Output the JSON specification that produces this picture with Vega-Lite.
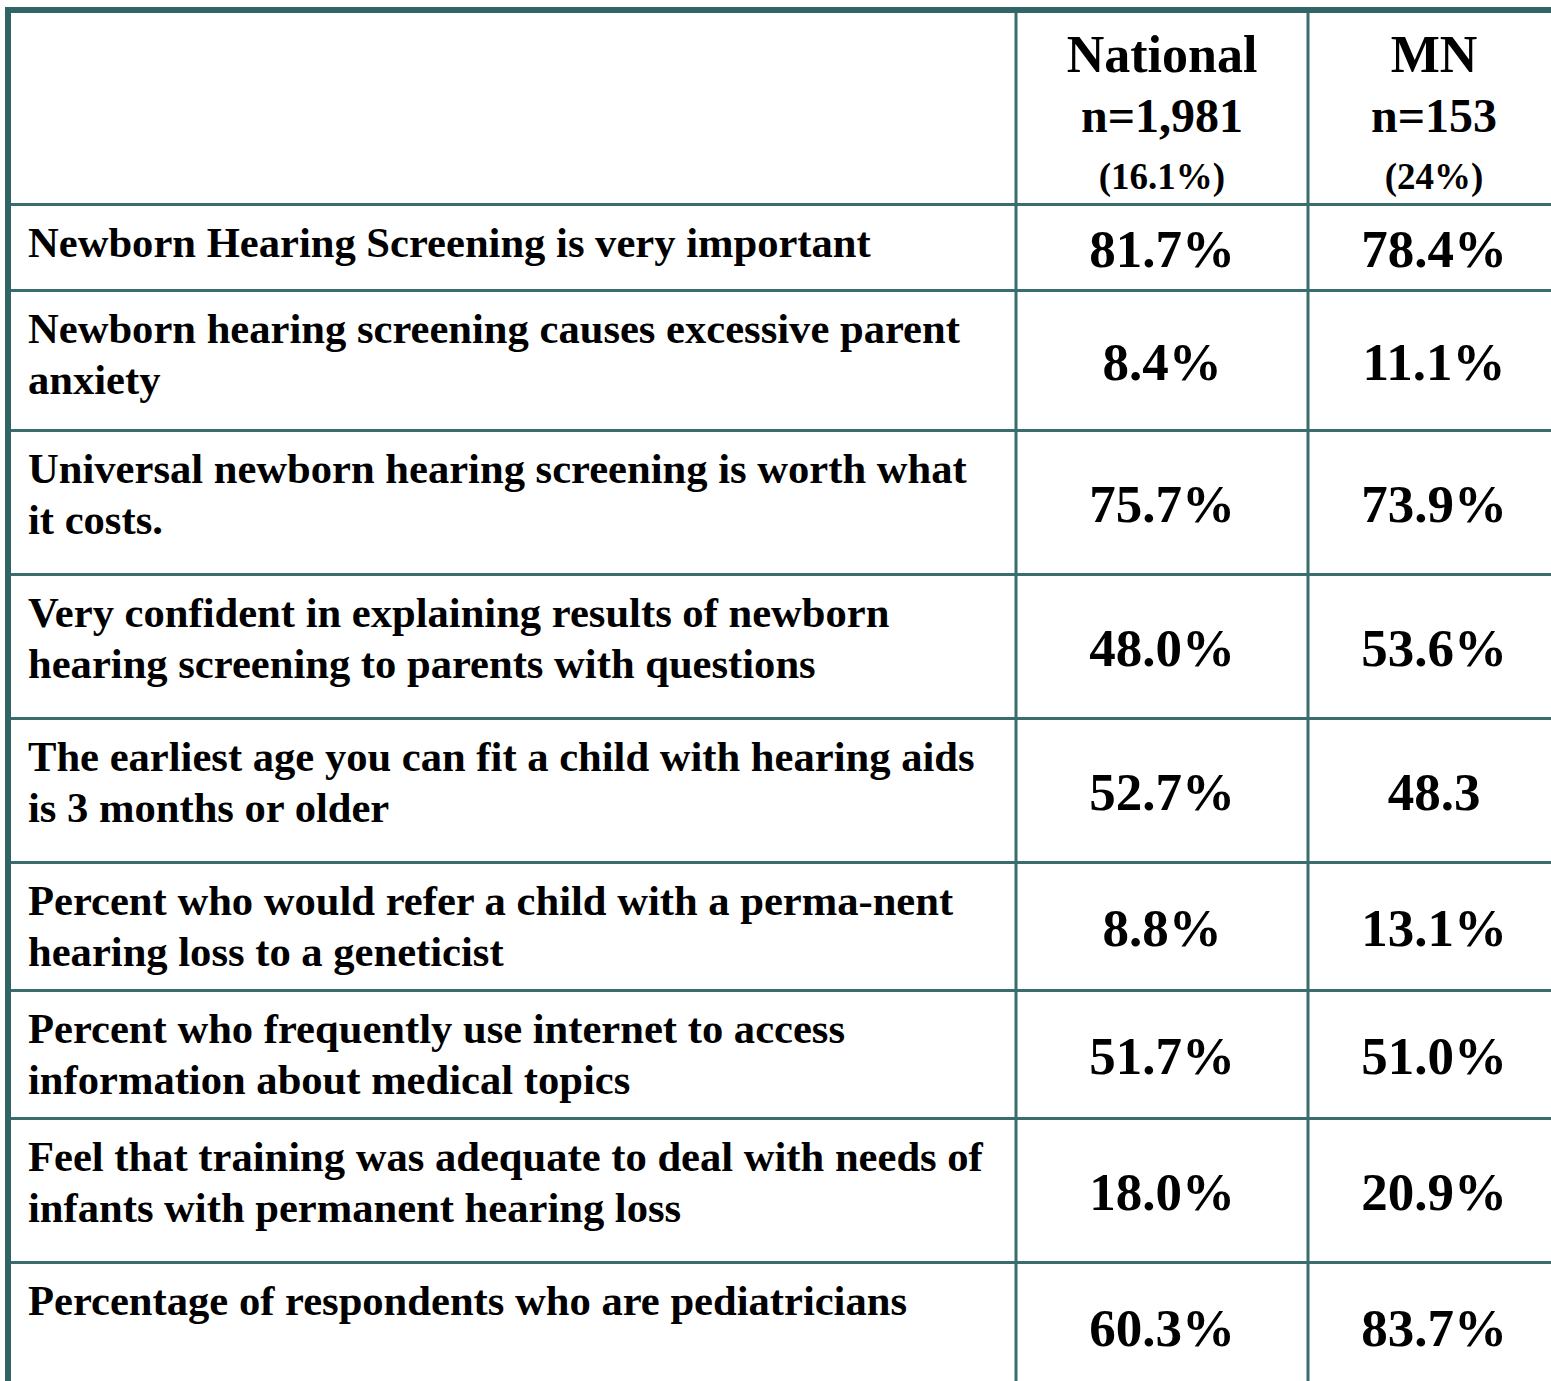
{
  "$schema": "https://vega.github.io/schema/vega-lite/v6.json",
  "width": 1551,
  "height": 1381,
  "autosize": {"type": "fit", "contains": "padding"},
  "padding": 0,
  "background": "white",
  "config": {"view": {"stroke": null}, "text": {"font": "Liberation Serif", "fontWeight": "bold", "color": "black"}},
  "datasets": {
    "rows": [
      {"label": "Newborn Hearing Screening is very important", "National": "81.7%", "MN": "78.4%", "top": 204.5, "bottom": 290.5},
      {"label": "Newborn hearing screening causes excessive parent\nanxiety", "National": "8.4%", "MN": "11.1%", "top": 290.5, "bottom": 430.5},
      {"label": "Universal newborn hearing screening is worth what\nit costs.", "National": "75.7%", "MN": "73.9%", "top": 430.5, "bottom": 574.5},
      {"label": "Very confident in explaining results of newborn\nhearing screening to parents with questions", "National": "48.0%", "MN": "53.6%", "top": 574.5, "bottom": 718.5},
      {"label": "The earliest age you can fit a child with hearing aids\nis 3 months or older", "National": "52.7%", "MN": "48.3", "top": 718.5, "bottom": 862.5},
      {"label": "Percent who would refer a child with a perma-nent\nhearing loss to a geneticist", "National": "8.8%", "MN": "13.1%", "top": 862.5, "bottom": 990.5},
      {"label": "Percent who frequently use internet to access\ninformation about medical topics", "National": "51.7%", "MN": "51.0%", "top": 990.5, "bottom": 1118.5},
      {"label": "Feel that training was adequate to deal with needs of\ninfants with permanent hearing loss", "National": "18.0%", "MN": "20.9%", "top": 1118.5, "bottom": 1262.5},
      {"label": "Percentage of respondents who are pediatricians", "National": "60.3%", "MN": "83.7%", "top": 1262.5, "bottom": 1391}
    ],
    "cols": [
      {"name": "label", "left": 8, "right": 1016, "title": "", "n": "", "pct": ""},
      {"name": "National", "left": 1016, "right": 1308, "title": "National", "n": "n=1,981", "pct": "(16.1%)"},
      {"name": "MN", "left": 1308, "right": 1560, "title": "MN", "n": "n=153", "pct": "(24%)"}
    ]
  },
  "layer": [
    {
      "data": {"name": "rows"},
      "mark": {"type": "rule", "color": "#3a6d6d", "strokeWidth": 3, "clip": true},
      "encoding": {
        "y": {"field": "top", "type": "quantitative", "scale": {"domain": [0, 1381], "reverse": true, "zero": false, "nice": false}, "axis": null},
        "x": {"datum": 5, "type": "quantitative", "scale": {"domain": [0, 1551], "zero": false, "nice": false}, "axis": null},
        "x2": {"datum": 1551}
      }
    },
    {
      "data": {"name": "cols"},
      "transform": [{"filter": "datum.name != 'label'"}],
      "mark": {"type": "rule", "color": "#3a6d6d", "strokeWidth": 3, "clip": true},
      "encoding": {
        "x": {"field": "left", "type": "quantitative"},
        "y": {"datum": 10, "type": "quantitative"},
        "y2": {"datum": 1381}
      }
    },
    {
      "data": {"values": [{"edge": "top"}]},
      "mark": {"type": "rule", "color": "#316464", "strokeWidth": 6, "clip": true},
      "encoding": {
        "y": {"datum": 10, "type": "quantitative"},
        "x": {"datum": 5, "type": "quantitative"},
        "x2": {"datum": 1551}
      }
    },
    {
      "data": {"values": [{"edge": "left"}]},
      "mark": {"type": "rule", "color": "#316464", "strokeWidth": 6, "clip": true},
      "encoding": {
        "x": {"datum": 8, "type": "quantitative"},
        "y": {"datum": 7, "type": "quantitative"},
        "y2": {"datum": 1381}
      }
    },
    {
      "data": {"name": "rows"},
      "mark": {"type": "text", "align": "left", "baseline": "alphabetic", "dy": 52, "fontSize": 42.6, "lineBreak": "\n", "lineHeight": 51},
      "encoding": {
        "x": {"datum": 28, "type": "quantitative"},
        "y": {"field": "top", "type": "quantitative"},
        "text": {"field": "label"}
      }
    },
    {
      "data": {"name": "rows"},
      "transform": [
        {"fold": ["National", "MN"], "as": ["col", "value"]},
        {"lookup": "col", "from": {"data": {"name": "cols"}, "key": "name", "fields": ["left", "right"]}},
        {"calculate": "(datum.left + datum.right) / 2", "as": "cx"},
        {"calculate": "(datum.top + datum.bottom) / 2", "as": "cy"}
      ],
      "mark": {"type": "text", "align": "center", "baseline": "middle", "dy": 3, "fontSize": 53},
      "encoding": {
        "x": {"field": "cx", "type": "quantitative"},
        "y": {"field": "cy", "type": "quantitative"},
        "text": {"field": "value"}
      }
    },
    {
      "data": {"name": "cols"},
      "transform": [
        {"filter": "datum.name != 'label'"},
        {"calculate": "(datum.left + datum.right) / 2", "as": "cx"}
      ],
      "mark": {"type": "text", "align": "center", "baseline": "alphabetic", "fontSize": 52},
      "encoding": {
        "x": {"field": "cx", "type": "quantitative"},
        "y": {"datum": 72, "type": "quantitative"},
        "text": {"field": "title"}
      }
    },
    {
      "data": {"name": "cols"},
      "transform": [
        {"filter": "datum.name != 'label'"},
        {"calculate": "(datum.left + datum.right) / 2", "as": "cx"}
      ],
      "mark": {"type": "text", "align": "center", "baseline": "alphabetic", "fontSize": 48},
      "encoding": {
        "x": {"field": "cx", "type": "quantitative"},
        "y": {"datum": 132, "type": "quantitative"},
        "text": {"field": "n"}
      }
    },
    {
      "data": {"name": "cols"},
      "transform": [
        {"filter": "datum.name != 'label'"},
        {"calculate": "(datum.left + datum.right) / 2", "as": "cx"}
      ],
      "mark": {"type": "text", "align": "center", "baseline": "alphabetic", "fontSize": 37},
      "encoding": {
        "x": {"field": "cx", "type": "quantitative"},
        "y": {"datum": 189, "type": "quantitative"},
        "text": {"field": "pct"}
      }
    }
  ]
}
